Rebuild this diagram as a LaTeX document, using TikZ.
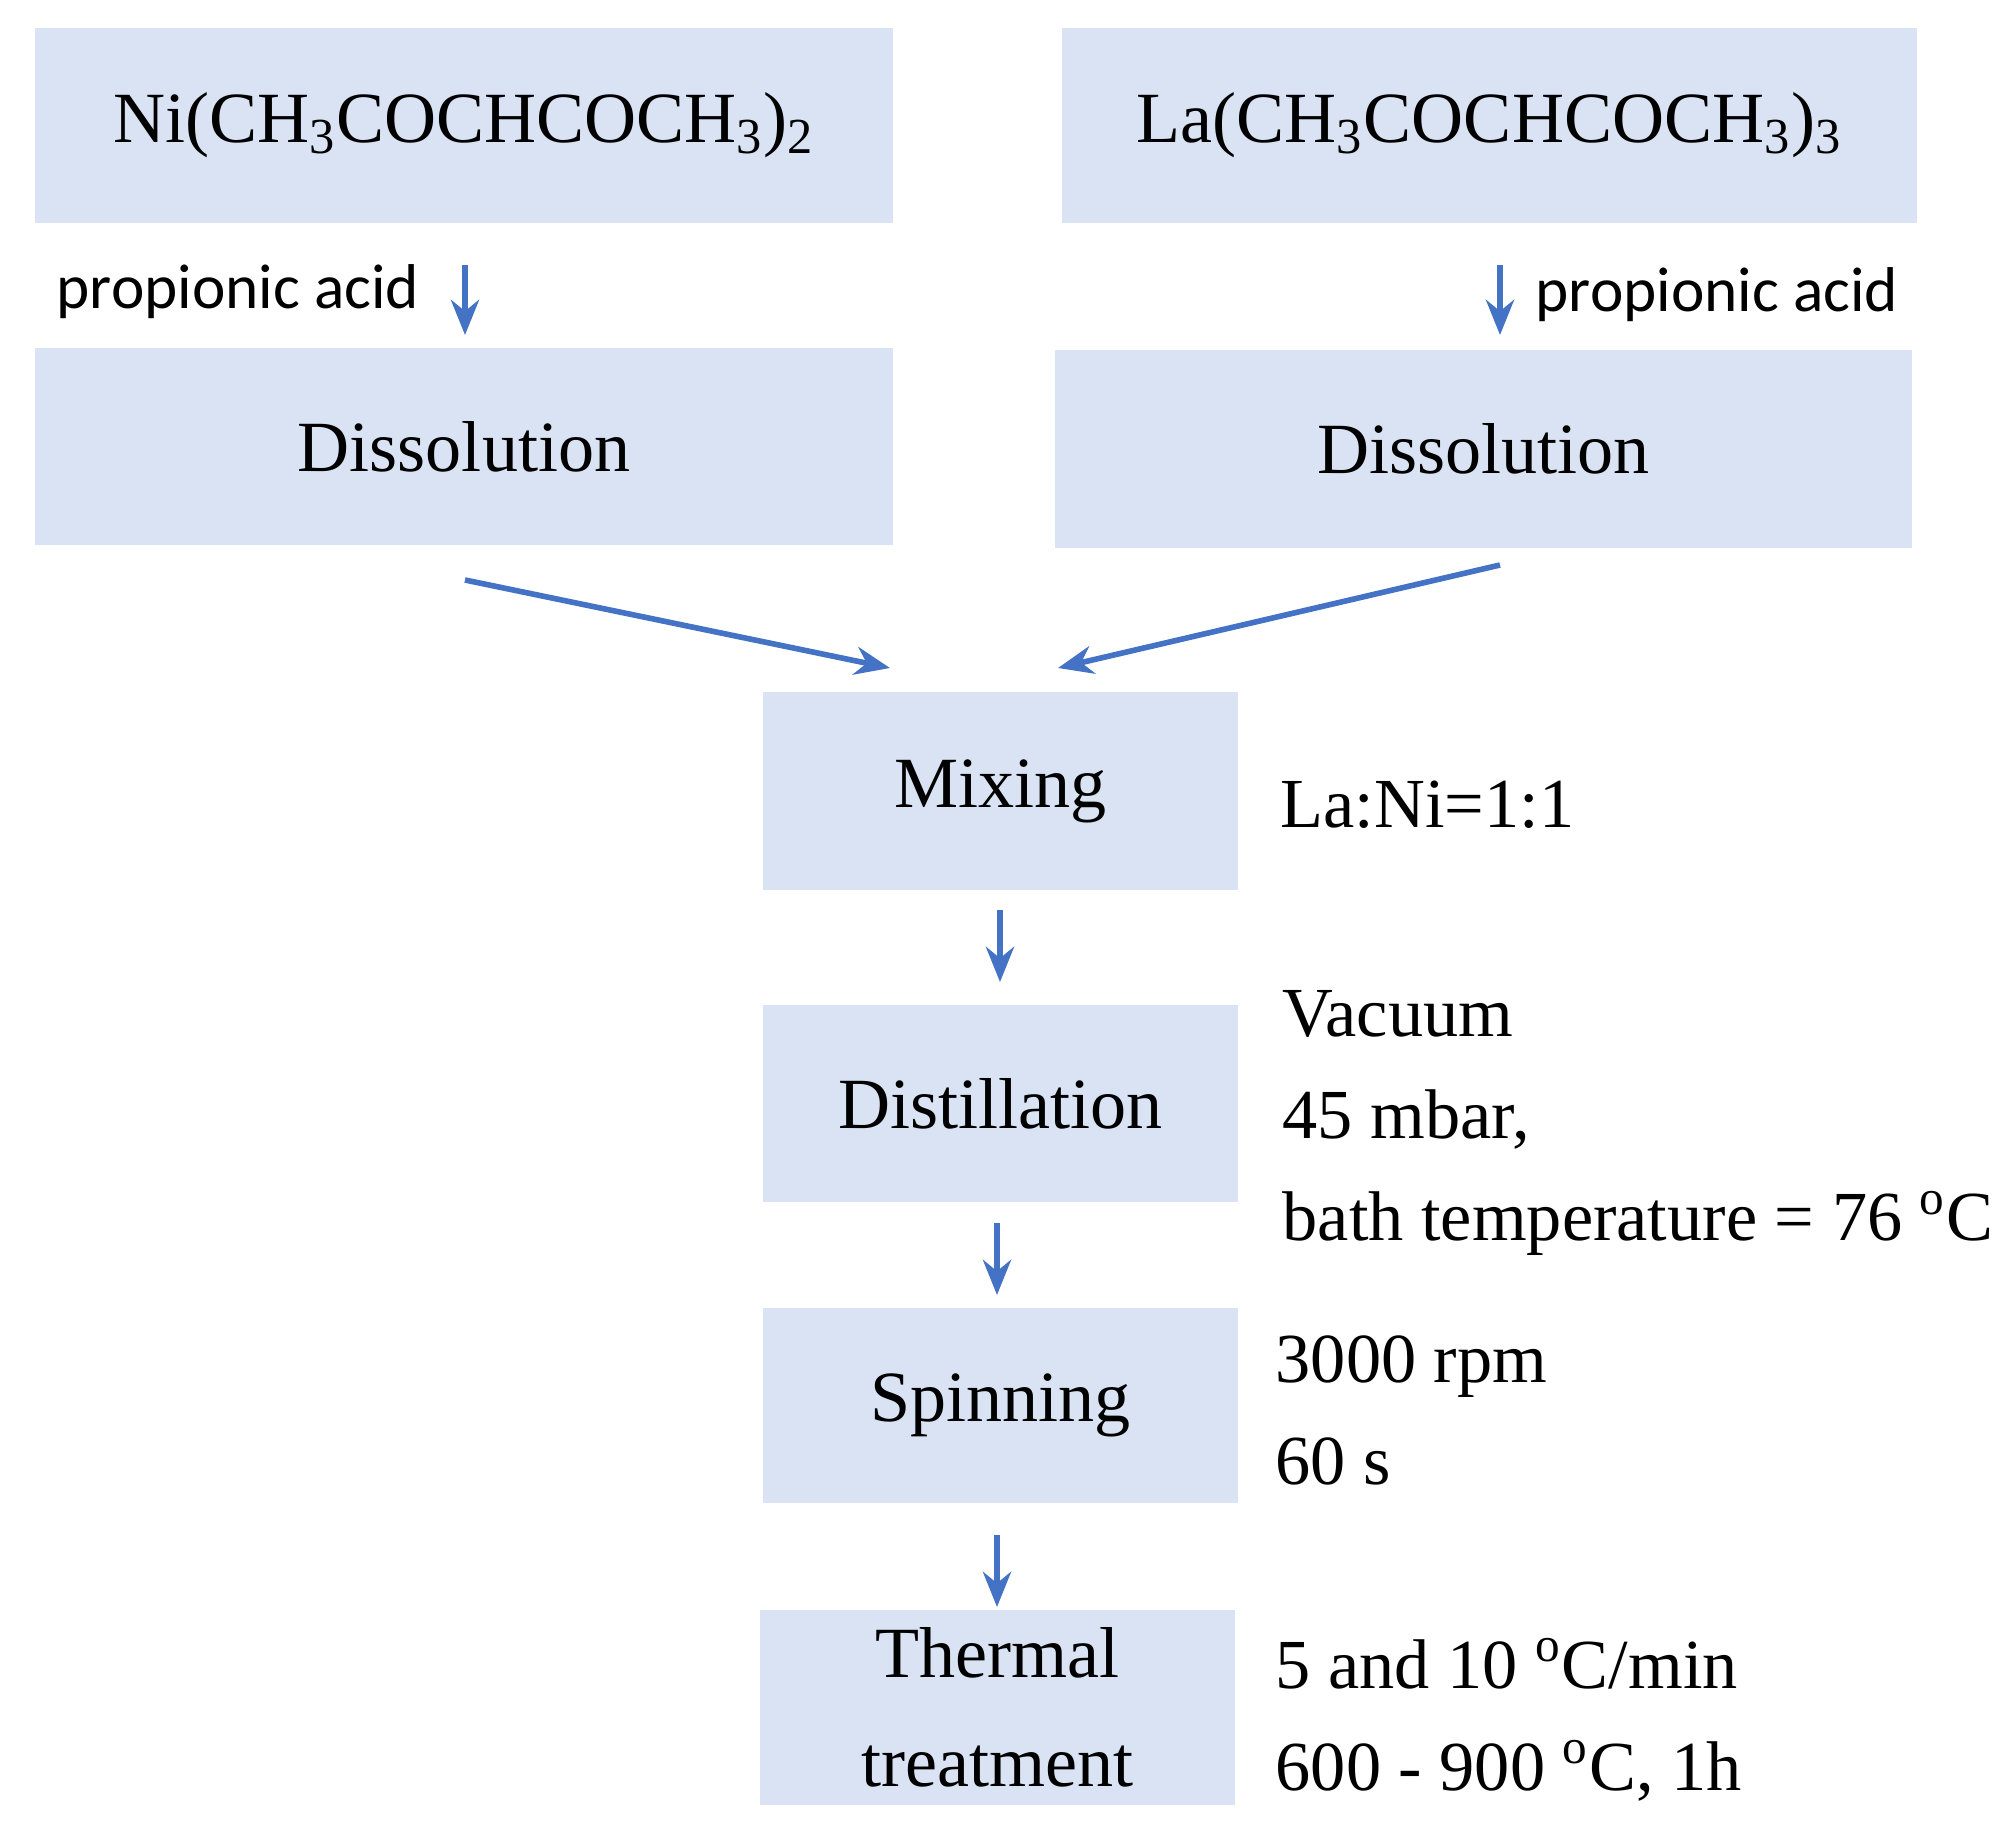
\documentclass[tikz,border=0pt]{standalone}
\usepackage{fontspec}
\setmainfont{Liberation Serif}
\newfontfamily\acidfont{Carlito}
\usetikzlibrary{arrows.meta}
\definecolor{boxc}{RGB}{218,227,243}
\definecolor{arr}{RGB}{68,114,196}
\tikzset{
 stepbox/.style={fill=boxc,draw=none,inner sep=0pt,align=center,font=\fontsize{20.5}{25}\selectfont},
 note/.style={anchor=west,inner sep=0pt,align=left,font=\fontsize{20}{29}\selectfont},
 acid/.style={inner sep=0pt,font=\acidfont\fontsize{18}{22}\selectfont},
 flow/.style={arr,line width=1.6pt,-{Stealth[length=10pt,width=8pt]}}
}
\begin{document}
\begin{tikzpicture}[x=0.01cm,y=-0.01cm]
\useasboundingbox (0,0) rectangle (2000,1843);
\newcommand\bx[6]{\node[stepbox,minimum width={(#4-#2)*0.01cm},minimum height={(#5-#3)*0.01cm}] (#1) at ({(#2+#4)/2},{(#3+#5)/2}) {#6};}
\bx{ni}{35}{28}{893}{223}{Ni(CH\textsubscript{3}COCHCOCH\textsubscript{3})\textsubscript{2}}
\bx{la}{1062}{28}{1917}{223}{La(CH\textsubscript{3}COCHCOCH\textsubscript{3})\textsubscript{3}}
\bx{d1}{35}{348}{893}{545}{Dissolution}
\bx{d2}{1055}{350}{1912}{548}{Dissolution}
\bx{mix}{763}{692}{1238}{890}{Mixing}
\bx{dist}{763}{1005}{1238}{1202}{Distillation}
\bx{spin}{763}{1308}{1238}{1503}{Spinning}
\bx{therm}{760}{1610}{1235}{1805}{Thermal\\[6pt]treatment}
\coordinate (a1s) at (465,265); \coordinate (a1e) at (465,335);
\coordinate (a2s) at (1500,265); \coordinate (a2e) at (1500,335);
\draw[flow] (a1s) -- (a1e);
\draw[flow] (a2s) -- (a2e);
\node[acid,anchor=east] (p1) at (420,292) {propionic acid};
\node[acid,anchor=west] (p2) at (1535,295) {propionic acid};
\coordinate (b1s) at (465,580); \coordinate (b1e) at (890,668);
\coordinate (b2s) at (1500,565); \coordinate (b2e) at (1058,668);
\draw[flow] (b1s) -- (b1e);
\draw[flow] (b2s) -- (b2e);
\coordinate (c1s) at (1000,910); \coordinate (c1e) at (1000,982);
\coordinate (c2s) at (997,1223); \coordinate (c2e) at (997,1295);
\coordinate (c3s) at (997,1535); \coordinate (c3e) at (997,1607);
\draw[flow] (c1s) -- (c1e);
\draw[flow] (c2s) -- (c2e);
\draw[flow] (c3s) -- (c3e);
\node[note] (n1) at (1280,805) {La:Ni=1:1};
\node[note,anchor=north west] (n2) at (1282,990) {Vacuum\\45 mbar,\\bath temperature = 76 \textsuperscript{o}C};
\node[note,anchor=north west] (n3) at (1275,1335) {3000 rpm\\60 s};
\node[note,anchor=north west] (n4) at (1275,1638) {5 and 10 \textsuperscript{o}C/min\\600 - 900 \textsuperscript{o}C, 1h};
\end{tikzpicture}
\end{document}
